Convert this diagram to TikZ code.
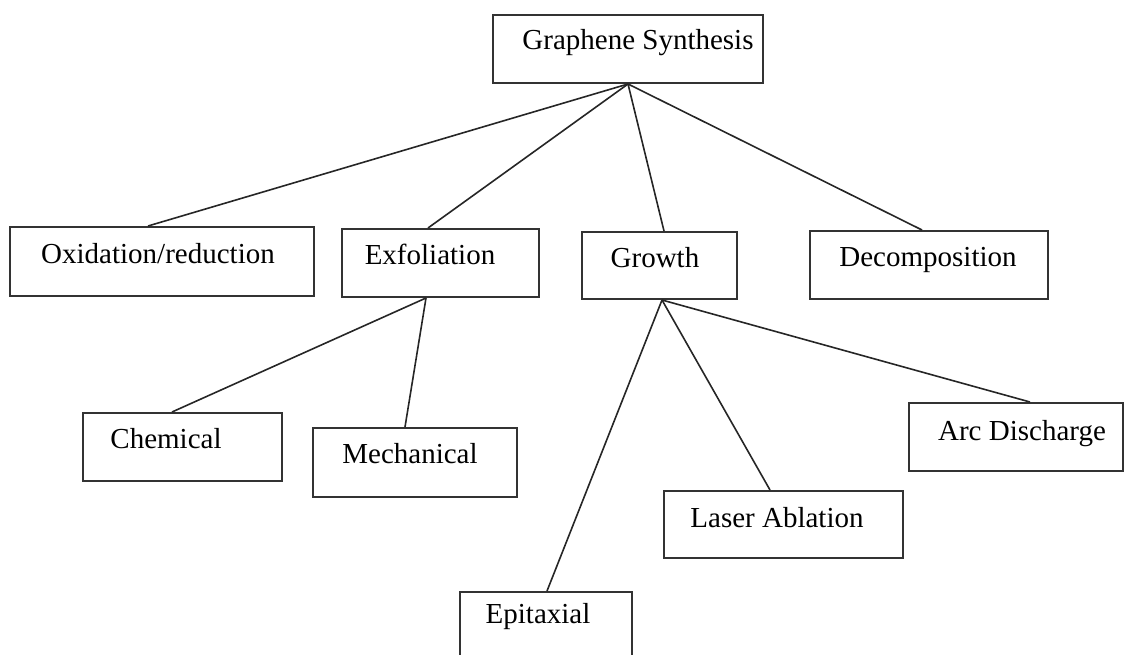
\documentclass[tikz,border=0pt]{standalone}
\usepackage{fontspec}
\setmainfont{Liberation Serif}

\tikzset{
    box/.style={draw=black!80, line width=2pt, fill=white, inner sep=0pt},
    lbl/.style={font=\fontsize{29}{34}\selectfont, inner sep=0pt, anchor=base},
    link/.style={draw=black!85, line width=1.6pt}
}

\begin{document}
\begin{tikzpicture}[x=1pt, y=-1pt]
    \useasboundingbox (0, 0) rectangle (1137, 655);
    \clip (0, 0) rectangle (1137, 655);

    % boxes
    \node[box, minimum width=270pt, minimum height=68pt] (gs) at (628, 49) {};
    \node[box, minimum width=304pt, minimum height=69pt] (ox) at (162, 261.5) {};
    \node[box, minimum width=197pt, minimum height=68pt] (ex) at (440.5, 263) {};
    \node[box, minimum width=155pt, minimum height=67pt] (gr) at (659.5, 265.5) {};
    \node[box, minimum width=238pt, minimum height=68pt] (de) at (929, 265) {};
    \node[box, minimum width=199pt, minimum height=68pt] (ch) at (182.5, 447) {};
    \node[box, minimum width=204pt, minimum height=69pt] (me) at (415, 462.5) {};
    \node[box, minimum width=214pt, minimum height=68pt] (ar) at (1016, 437) {};
    \node[box, minimum width=239pt, minimum height=67pt] (la) at (783.5, 524.5) {};
    \node[box, minimum width=172pt, minimum height=68pt] (ep) at (546, 626) {};

    % labels
    \node[lbl] (gs-t) at (638, 50) {Graphene Synthesis};
    \node[lbl] (ox-t) at (158, 263) {Oxidation/reduction};
    \node[lbl] (ex-t) at (430, 264) {Exfoliation};
    \node[lbl] (gr-t) at (655, 267) {Growth};
    \node[lbl] (de-t) at (928, 266) {Decomposition};
    \node[lbl] (ch-t) at (166, 448) {Chemical};
    \node[lbl] (me-t) at (410, 463) {Mechanical};
    \node[lbl] (ar-t) at (1022, 440) {Arc Discharge};
    \node[lbl] (la-t) at (777, 527) {Laser Ablation};
    \node[lbl] (ep-t) at (538, 623) {Epitaxial};

    % connectors
    \draw[link] (gs.south) -- ([xshift=-14pt]ox.north);
    \draw[link] (gs.south) -- ([xshift=-12.5pt]ex.north);
    \draw[link] (gs.south) -- ([xshift=4.5pt]gr.north);
    \draw[link] (gs.south) -- ([xshift=-7pt]de.north);
    \draw[link] ([xshift=-14.5pt]ex.south) -- ([xshift=-10.5pt]ch.north);
    \draw[link] ([xshift=-14.5pt]ex.south) -- ([xshift=-10pt]me.north);
    \draw[link] ([xshift=2.5pt]gr.south) -- ([xshift=1pt]ep.north);
    \draw[link] ([xshift=2.5pt]gr.south) -- ([xshift=-13.5pt]la.north);
    \draw[link] ([xshift=2.5pt]gr.south) -- ([xshift=14pt]ar.north);
\end{tikzpicture}
\end{document}
